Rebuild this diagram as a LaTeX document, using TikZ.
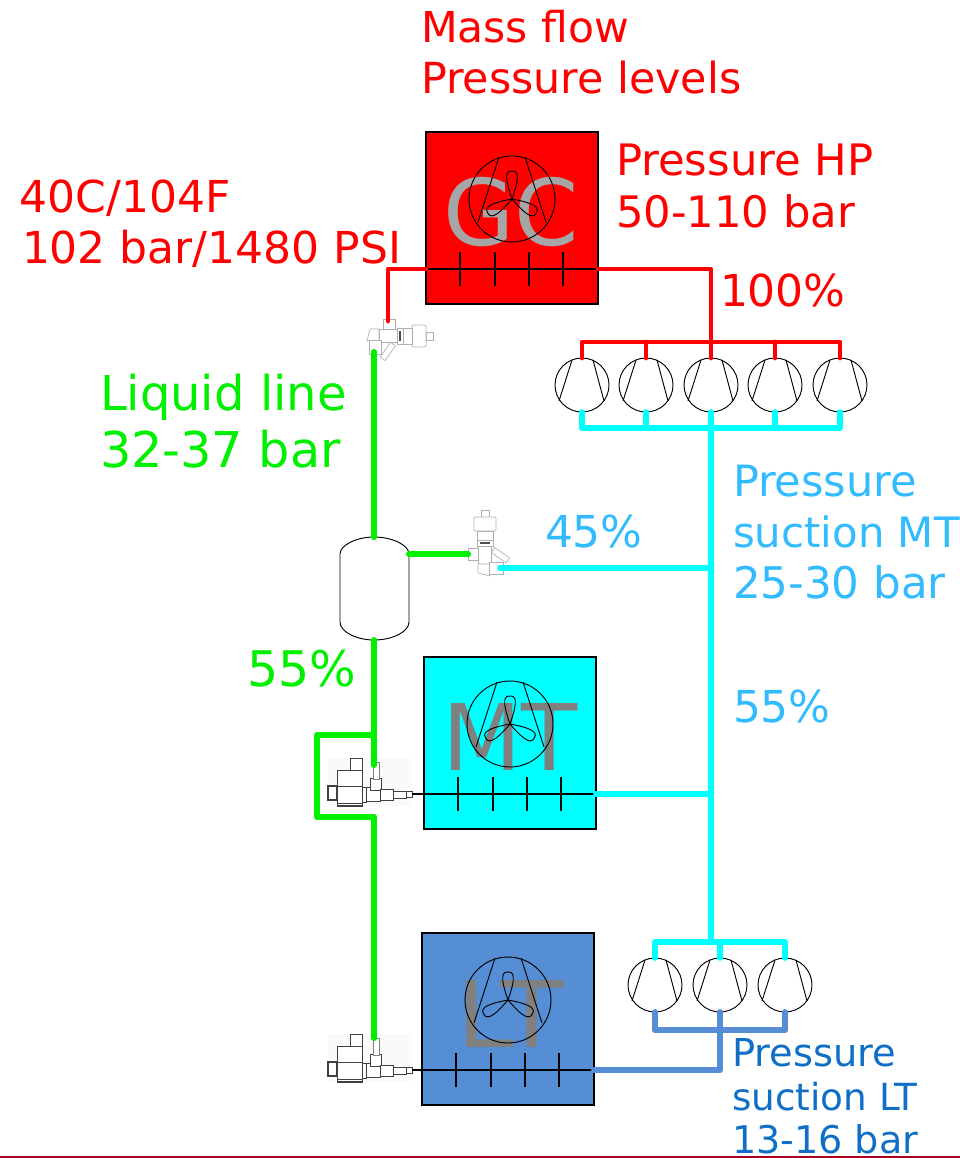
\documentclass[tikz,border=0pt]{standalone}
\usepackage{fontspec}
\setmainfont{DejaVu Sans}
\definecolor{gcred}{HTML}{FF0000}
\definecolor{liq}{HTML}{00F000}
\definecolor{cy}{HTML}{00FFFF}
\definecolor{ltb}{HTML}{558ED5}
\definecolor{skyt}{HTML}{33BBFF}
\definecolor{bluet}{HTML}{0F6FC6}
\definecolor{icon}{HTML}{B0B0B0}
\tikzset{
  lab/.style={anchor=base west,inner sep=0,outer sep=0,text depth=0pt,font=\fontsize{#1}{#1}\selectfont},
  big/.style={anchor=base,inner sep=0,outer sep=0,font=\fontsize{69}{69}\selectfont},
  redp/.style={draw=gcred,line width=3.6pt,line join=round,line cap=round},
  cyp/.style={draw=cy,line width=4.2pt,line join=round,line cap=round},
  grp/.style={draw=liq,line width=4.6pt,line join=round,line cap=round},
  blp/.style={draw=ltb,line width=4.4pt,line join=round,line cap=round},
  thin line/.style={draw=black,line width=0.7pt},
  coil line/.style={draw=black,line width=0.85pt},
  pics/comp/.style={code={
    \node[circle,draw=black,line width=0.7pt,fill=white,minimum size=40.5pt,inner sep=0,outer sep=0] (-n) at (0,0) {};
    \draw[thin line] (-10,-25) -- (-23,16) (11,-25) -- (22,16);
  }},
  pics/hx/.style={code={
    \node[draw=black,line width=1pt,fill=#1,minimum size=129pt,inner sep=0,outer sep=0,anchor=north west] (-box) at (0,0) {};
    \coordinate (-l) at (0,137);
    \coordinate (-r) at (172,137);
    \coordinate (-c) at (86,67);
  }},
  pics/fancoil/.style={code={
    \draw[thin line] (86,67) circle[radius=43];
    \draw[thin line] (73,25) -- (52,90) (99,25) -- (120,90);
    \foreach \a in {0,120,240}
      \draw[thin line,shift={(86,67)},rotate=\a] (0,0) .. controls (-5,-14) and (-9,-29) .. (0,-28) .. controls (9,-29) and (5,-14) .. (0,0);
    \foreach \x in {34,69,103,137}
      \draw[coil line] (\x,120) -- (\x,154);
  }},
  pics/checkvalve/.style={code={
    \begin{scope}[draw=icon,line width=0.5pt,fill=white]
    \filldraw (-4,-43) rectangle (4,-36);
    \filldraw[rounded corners=1pt] (-11,-36) rectangle (11,-22);
    \filldraw (-8,-22) rectangle (8,-13);
    \filldraw (-8,-13) rectangle (8,-7);
    \filldraw (-7,-7) rectangle (6,11);
    \filldraw (-7,11) -- (-7,20) -- (5,23) -- (5,11) -- cycle;
    \filldraw (-17,-5) rectangle (-7,7);
    \filldraw (4,9) rectangle (18,21);
    \filldraw[rotate around={-35:(8,-3)}] (8,-6) rectangle (26,0);
    \fill[black!70] (-5,-11) rectangle (5,-9);
    \end{scope}
    \coordinate (-a) at (-17,1);
    \coordinate (-b) at (15,15);
  }},
  pics/solvalve/.style={code={
    \fill[black!2] (-47,-36) rectangle (37,12);
    \begin{scope}[draw=black!75,line width=0.65pt,fill=white]
    \filldraw (-25,-36) rectangle (-13,-24);
    \filldraw (-38,-24) rectangle (-13,12);
    \draw (-38,-8) -- (-13,-8) (-38,9) -- (-13,9) (-38,11) -- (-13,11);
    \filldraw[line width=1pt] (-47,-8) rectangle (-38,6);
    \filldraw (-13,-7) rectangle (-9,8);
    \filldraw (-9,-7) rectangle (5,7);
    \filldraw (-5,-16) rectangle (6,-4);
    \filldraw[draw=black!50] (-2,-32) rectangle (4,-15);
    \filldraw (5,-5) rectangle (18,6);
    \filldraw (18,-3) rectangle (31,4);
    \filldraw (31,-3) rectangle (37,3);
    \end{scope}
    \coordinate (-in) at (1,-32);
    \coordinate (-out) at (37,0);
  }}
}
\begin{document}
\begin{tikzpicture}[x=0.75pt,y=-0.75pt]
\useasboundingbox (0,0) rectangle (960,1158);
% exchangers
\pic (gc) at (426,132) {hx={gcred}};
\pic (mt) at (424,657) {hx={cy}};
\pic (lt) at (422,933) {hx={ltb}};
\node[big,text=black!35] (gct) at (511,245) {GC};
\node[big,text=black!50] (mtt) at (510,770) {MT};
\node[big,text=black!50] (ltt) at (510,1047) {\fontspec[FakeStretch=1.12]{DejaVu Sans}LT};
\pic at (426,132) {fancoil};
\pic at (424,657) {fancoil};
\pic at (422,933) {fancoil};
% compressors
\pic (c1) at (582,385) {comp};
\pic (c2) at (646,385) {comp};
\pic (c3) at (711,385) {comp};
\pic (c4) at (775,385) {comp};
\pic (c5) at (840,385) {comp};
\pic (d1) at (655,985) {comp};
\pic (d2) at (720,985) {comp};
\pic (d3) at (785,985) {comp};
% receiver
\draw[thin line,fill=white] (340,554) .. controls (340,545) and (357,537) .. (374,537) coordinate (rtop)
  .. controls (392,537) and (409,545) .. (409,554) coordinate (rr) -- (409,622)
  .. controls (409,632) and (392,640) .. (374,640) coordinate (rbot)
  .. controls (357,640) and (340,632) .. (340,622) -- cycle;
% valves
\pic[rotate=-90] (v1) at (390,336) {checkvalve};
\pic (v2) at (485,553) {checkvalve};
\pic (s1) at (375,794) {solvalve};
\pic (s2) at (375,1070) {solvalve};
% coil lines
\draw[coil line] (gc-l) -- (gc-r);
\draw[coil line] (s1-out) -- (mt-r);
\draw[coil line] (s2-out) -- (lt-r);
% red
\coordinate (rl) at (388,269);
\coordinate (rj) at (711,269);
\coordinate (rm) at (711,342);
\draw[redp] (gc-l) -- (rl) -- (388,321);
\draw[redp] (gc-r) -- (rj) -- (c3-n.north);
\draw[redp] (c1-n.north) |- (rm) -| (c5-n.north);
\draw[redp] (c2-n.north) -- (c2-n.north |- rm);
\draw[redp] (c4-n.north) -- (c4-n.north |- rm);
% cyan
\coordinate (cm) at (711,428);
\coordinate (cj1) at (711,568);
\coordinate (cj2) at (711,794);
\coordinate (cm2) at (711,942);
\draw[cyp] (c1-n.south) |- (cm) -| (c5-n.south);
\draw[cyp] (c2-n.south) -- (c2-n.south |- cm);
\draw[cyp] (c3-n.south) -- (cm2);
\draw[cyp] (c4-n.south) -- (c4-n.south |- cm);
\draw[cyp] (v2-b) -- (cj1);
\draw[cyp] (mt-r) -- (cj2);
\draw[cyp] (d1-n.north) |- (cm2) -| (d3-n.north);
\draw[cyp] (d2-n.north) -- (d2-n.north |- cm2);
% blue
\coordinate (bm) at (720,1030);
\coordinate (bj) at (720,1070);
\draw[blp] (d1-n.south) |- (bm) -| (d3-n.south);
\draw[blp] (d2-n.south) -- (bj) -- (lt-r);
% green
\coordinate (g1) at (374,352);
\coordinate (gb1) at (374,735);
\coordinate (gb2) at (317,735);
\coordinate (gb3) at (317,817);
\coordinate (gb4) at (374,817);
\draw[grp] (g1) -- (rtop);
\draw[grp] (rr) -- (v2-a);
\draw[grp] (rbot) -- (374,765);
\draw[grp] (gb1) -- (gb2) -- (gb3) -- (gb4) -- (374,1038);
% labels
\node[lab=31.9,text=gcred] (t1) at (421,42) {Mass flow};
\node[lab=32.1,text=gcred] (t2) at (421,93) {Pressure levels};
\node[lab=32.5,text=gcred] (t3) at (616,175) {Pressure HP};
\node[lab=32.5,text=gcred] (t4) at (616,227) {50-110 bar};
\node[lab=33,text=gcred] (t5) at (20,212) {40C/104F};
\node[lab=33,text=gcred] (t6) at (22,263) {102 bar/1480 PSI};
\node[lab=33,text=gcred] (t7) at (720,306) {100\%};
\node[lab=36,text=liq] (t8) at (100,410) {Liquid line};
\node[lab=37,text=liq] (t9) at (100,467) {32-37 bar};
\node[lab=33,text=skyt] (t10) at (545,547) {45\%};
\node[lab=32.3,text=skyt] (t11) at (733,496) {Pressure};
\node[lab=31.4,text=skyt] (t12) at (733,547) {suction MT};
\node[lab=32.7,text=skyt] (t13) at (733,598) {25-30 bar};
\node[lab=36.8,text=liq] (t14) at (247,686) {55\%};
\node[lab=33,text=skyt] (t15) at (733,722) {55\%};
\node[lab=28.8,text=bluet] (t16) at (732,1066) {Pressure};
\node[lab=28,text=bluet] (t17) at (732,1110) {suction LT};
\node[lab=28.6,text=bluet] (t18) at (732,1153) {13-16 bar};
% bottom rule
\coordinate (ba) at (0,1157);
\coordinate (bb) at (960,1157);
\draw[draw={rgb,255:red,165;green,0;blue,33},line width=1.5pt] (ba) -- (bb);
\end{tikzpicture}
\end{document}
